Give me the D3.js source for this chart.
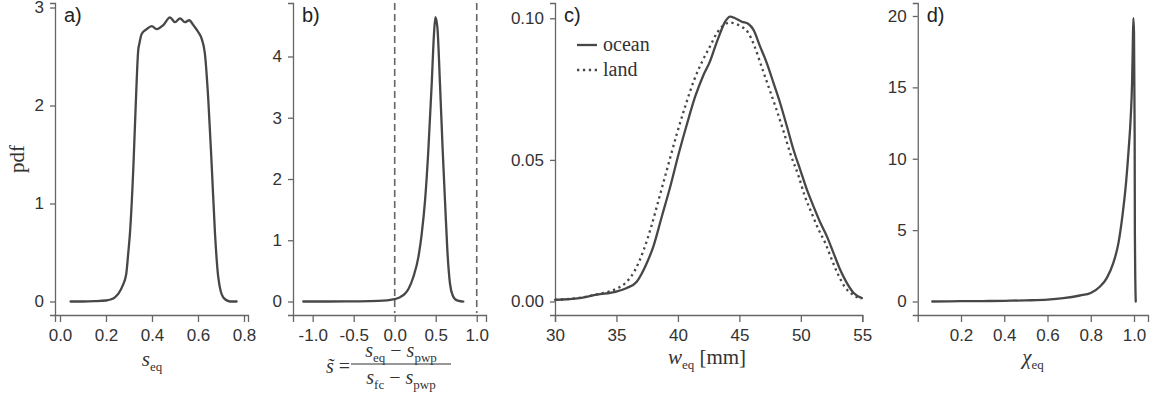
<!DOCTYPE html>
<html>
<head>
<meta charset="utf-8">
<script src="https://cdn.jsdelivr.net/npm/d3@7"></script>
<style>
  html, body { margin: 0; padding: 0; background: #fff; }
  svg { display: block; }
  .tick text { font-family: "Liberation Sans", Arial, sans-serif; font-size: 17px; fill: #333; }
  .serif { font-family: "Liberation Serif", "Times New Roman", serif; fill: #333; }
</style>
</head>
<body>
<svg id="chart" width="1162" height="406"></svg>
<script>
// ---------- data ----------
// panel a: pdf of s_eq
const aX = [0.046,0.10,0.15,0.20,0.22,0.24,0.254,0.272,0.288,0.297,0.304,0.319,0.33,0.34,0.345,0.355,0.377,0.399,0.42,0.449,0.478,0.50,0.522,0.543,0.562,0.58,0.601,0.616,0.63,0.645,0.66,0.674,0.688,0.71,0.739,0.768];
const aY = [0,0,0.003,0.01,0.02,0.045,0.08,0.16,0.28,0.5,0.69,1.37,2.05,2.56,2.63,2.73,2.78,2.81,2.78,2.82,2.90,2.85,2.89,2.85,2.87,2.82,2.75,2.68,2.53,2.05,1.37,0.69,0.25,0.04,0.0,0.0];

// panel b: pdf of normalised soil moisture
const bX = [-1.115,-0.8,-0.5,-0.2,0.0,0.065,0.12,0.166,0.227,0.288,0.329,0.37,0.41,0.451,0.479,0.496,0.52,0.552,0.585,0.613,0.642,0.674,0.71,0.735,0.78,0.837];
const bY = [0,0,0.003,0.01,0.04,0.07,0.12,0.2,0.4,0.72,1.1,1.65,2.47,3.55,4.37,4.64,4.48,3.55,2.47,1.65,0.83,0.29,0.09,0.04,0.01,0];
const bRefLines = [0, 1];

// panel c: pdf of w_eq, ocean and land
const cOceanX = [30,32.0,33.4,35.0,35.8,36.65,37.47,38.0,38.69,39.38,40.04,40.72,41.4,42.08,42.6,43.03,43.43,43.84,44.25,44.66,45.2,45.74,46.15,46.69,47.24,47.78,48.32,48.87,49.41,49.95,50.5,51.04,51.6,52.12,52.66,53.2,53.75,54.3,54.97];
const cOceanY = [0.0006,0.0012,0.0024,0.0035,0.0047,0.007,0.0136,0.0194,0.030,0.0406,0.0518,0.0624,0.0723,0.080,0.0847,0.090,0.0947,0.0988,0.1006,0.100,0.0988,0.098,0.0959,0.090,0.0841,0.0771,0.070,0.0618,0.0535,0.0465,0.0394,0.0335,0.0277,0.023,0.0171,0.0112,0.0065,0.003,0.0012];
const cLandX = [30,32,33.5,35,35.8,36.5,37.2,37.8,38.5,39.2,39.9,40.6,41.3,42,42.6,43.2,43.7,44.2,44.7,45.2,45.7,46.2,46.8,47.4,48,48.6,49.2,49.8,50.3,50.9,51.4,52,52.5,53,53.6,54.2,54.9];
const cLandY = [0.0006,0.0013,0.0026,0.0045,0.0068,0.011,0.018,0.026,0.037,0.048,0.059,0.069,0.078,0.085,0.090,0.095,0.0975,0.0985,0.098,0.097,0.095,0.0905,0.083,0.0755,0.068,0.060,0.0515,0.0445,0.0375,0.031,0.0258,0.0205,0.015,0.0098,0.005,0.0025,0.0008];
const cSeries = ["ocean", "land"];

// panel d: pdf of chi_eq
const dX = [0.067,0.2,0.3,0.4,0.5,0.6,0.673,0.75,0.8,0.843,0.874,0.904,0.928,0.946,0.963,0.975,0.985,0.991,0.994,0.997,1.0,1.003,1.004,1.006,1.008];
const dY = [0.0,0.02,0.03,0.05,0.08,0.13,0.23,0.42,0.6,1.05,1.64,2.69,4.09,5.95,8.29,10.6,12.96,15.3,17.6,19.85,18.8,11.8,4.8,1.5,0];

// tick labels
const aXTicks = [0.0,0.2,0.4,0.6,0.8], aYTicks = [0,1,2,3];
const bXTicks = [-1.0,-0.5,0.0,0.5,1.0], bYTicks = [0,1,2,3,4];
const cXTicks = [30,35,40,45,50,55], cYTicks = [0.00,0.05,0.10];
const dXTicks = [0.2,0.4,0.6,0.8,1.0], dYTicks = [0,5,10,15,20];
const panelLabels = ["a)", "b)", "c)", "d)"];

// ---------- layout ----------
const svg = d3.select("#chart");
const lineColor = "#474747", axisColor = "#666";
const TOP = 3, BOTTOM = 315;

function panel(cfg) {
  const g = svg.append("g");
  const x = d3.scaleLinear().domain(cfg.xDomain).range([cfg.left, cfg.right]);
  const y = d3.scaleLinear().domain(cfg.yDomain).range([BOTTOM, TOP]);
  const xa = g.append("g").attr("transform", `translate(0,${BOTTOM})`)
    .call(d3.axisBottom(x).tickValues(cfg.xTicks).tickFormat(cfg.xFmt).tickSizeOuter(0).tickSize(7).tickPadding(7));
  const ya = g.append("g").attr("transform", `translate(${cfg.left},0)`)
    .call(d3.axisLeft(y).tickValues(cfg.yTicks).tickFormat(cfg.yFmt).tickSizeOuter(0).tickSize(5).tickPadding(6));
  [xa, ya].forEach(a => {
    a.select(".domain").attr("stroke", axisColor).attr("stroke-width", 1.3);
    a.selectAll(".tick line").attr("stroke", axisColor).attr("stroke-width", 1.3);
  });
  g.append("text").attr("x", cfg.left + 9).attr("y", 22)
    .attr("font-family", "Liberation Sans, Arial, sans-serif").attr("font-size", 20).attr("fill", "#222")
    .text(cfg.label);
  return {g, x, y};
}

function drawLine(p, xs, ys, dash) {
  const pts = xs.map((v, i) => [v, ys[i]]);
  const line = d3.line().x(d => p.x(d[0])).y(d => p.y(d[1])).curve(d3.curveMonotoneX);
  const path = p.g.append("path").datum(pts).attr("d", line)
    .attr("fill", "none").attr("stroke", lineColor).attr("stroke-width", 2.3)
    .attr("stroke-linejoin", "round");
  if (dash) path.attr("stroke-dasharray", dash);
  else path.attr("stroke-linecap", "round");
}

const hy = f => v => f(v).replace("−", "-");
const f1 = hy(d3.format(".1f")), f2 = hy(d3.format(".2f")), f0 = hy(d3.format("d"));

// panel a
const pa = panel({left: 55, right: 248, xDomain: [-0.0217, 0.8174], yDomain: [-0.138, 3.046],
  xTicks: aXTicks, yTicks: aYTicks, xFmt: f1, yFmt: f0, label: panelLabels[0]});
drawLine(pa, aX, aY);

// panel b
const pb = panel({left: 293, right: 486, xDomain: [-1.240, 1.113], yDomain: [-0.220, 4.873],
  xTicks: bXTicks, yTicks: bYTicks, xFmt: f1, yFmt: f0, label: panelLabels[1]});
pb.g.selectAll(".ref").data(bRefLines).join("line").attr("class", "ref")
  .attr("x1", d => pb.x(d)).attr("x2", d => pb.x(d)).attr("y1", TOP).attr("y2", BOTTOM - 2)
  .attr("stroke", "#666").attr("stroke-width", 1.6).attr("stroke-dasharray", "7,4");
drawLine(pb, bX, bY);

// panel c
const pc = panel({left: 555, right: 862.3, xDomain: [30, 55], yDomain: [-0.00477, 0.1054],
  xTicks: cXTicks, yTicks: cYTicks, xFmt: f0, yFmt: f2, label: panelLabels[2]});
drawLine(pc, cOceanX, cOceanY);
drawLine(pc, cLandX, cLandY, "2.3,3.6");

// legend
const leg = pc.g.append("g");
cSeries.forEach((name, i) => {
  const yy = 45 + i * 25;
  leg.append("line").attr("x1", 577).attr("x2", 597).attr("y1", yy).attr("y2", yy)
    .attr("stroke", lineColor).attr("stroke-width", 2.3)
    .attr("stroke-dasharray", i === 1 ? "2.3,3.6" : null);
  leg.append("text").attr("class", "serif").attr("x", 603).attr("y", yy + 6)
    .attr("font-size", 20).text(name);
});

// panel d
const pd = panel({left: 917.75, right: 1148, xDomain: [0, 1.0647], yDomain: [-0.946, 20.91],
  xTicks: dXTicks, yTicks: dYTicks, xFmt: f1, yFmt: f0, label: panelLabels[3]});
drawLine(pd, dX, dY);

// ---------- axis labels ----------
svg.append("text").attr("class", "serif").attr("font-size", 21)
  .attr("transform", "translate(24,159) rotate(-90)").attr("text-anchor", "middle").text("pdf");

function mathLabel(x, y, parts, anchor, size) {
  const t = svg.append("text").attr("class", "serif").attr("font-size", size || 21)
    .attr("x", x).attr("y", y).attr("text-anchor", anchor || "middle");
  parts.forEach((p, i) => {
    const ts = t.append("tspan").text(p.t);
    if (p.it) ts.attr("font-style", "italic");
    if (p.sub) ts.attr("font-size", 13).attr("dy", 5);
    else if (i > 0 && parts[i - 1].sub) ts.attr("dy", -5);
  });
  return t;
}

mathLabel(152, 366, [{t: "s", it: true}, {t: "eq", sub: true}]);
mathLabel(707, 364, [{t: "w", it: true}, {t: "eq", sub: true}, {t: " [mm]"}]);
mathLabel(1033, 364, [{t: "χ", it: true}, {t: "eq", sub: true}]);

// panel b fraction label
mathLabel(326, 373, [{t: "s̃", it: true}, {t: " ="}], "start", 20);
mathLabel(401, 357, [{t: "s", it: true}, {t: "eq", sub: true}, {t: " − "}, {t: "s", it: true}, {t: "pwp", sub: true}], "middle", 20);
mathLabel(401, 384, [{t: "s", it: true}, {t: "fc", sub: true}, {t: " − "}, {t: "s", it: true}, {t: "pwp", sub: true}], "middle", 20);
svg.append("line").attr("x1", 351).attr("x2", 451).attr("y1", 364).attr("y2", 364)
  .attr("stroke", "#333").attr("stroke-width", 1.1);
</script>
</body>
</html>
